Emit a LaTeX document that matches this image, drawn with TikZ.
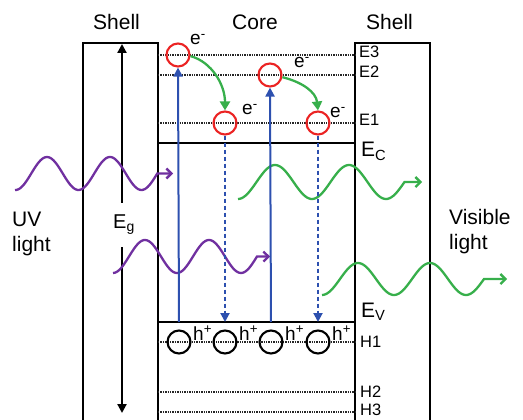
\documentclass[tikz,border=0pt]{standalone}
\usepackage{fontspec}
\setmainfont{Liberation Sans}
\usetikzlibrary{arrows.meta}
\definecolor{ublue}{RGB}{45,80,175}
\definecolor{upurple}{RGB}{112,48,160}
\definecolor{ugreen}{RGB}{55,175,75}
\definecolor{ured}{RGB}{235,35,35}
\begin{document}
\begin{tikzpicture}[x=1pt,y=-1pt,
  box/.style={line width=2.2pt},
  lvl/.style={line width=1.6pt, dash pattern=on 1.3pt off 1.1pt, black!85},
  elec/.style={circle, draw=ured, line width=2.1pt, minimum size=23pt, inner sep=0},
  hole/.style={circle, draw=black, line width=2.1pt, minimum size=23pt, inner sep=0},
  big/.style={font=\fontsize{21}{25}\selectfont, inner sep=0},
  lvltxt/.style={font=\fontsize{16.5}{18}\selectfont, anchor=base west, inner sep=0},
  eltxt/.style={font=\fontsize{19}{21}\selectfont, anchor=base west, inner sep=0},
  uparrow/.style={ublue, line width=2pt, -{Triangle[length=9pt,width=9pt]}},
  downarrow/.style={ublue, line width=2pt, dash pattern=on 4pt off 3pt, -{Triangle[length=9pt,width=9pt]}},
  hop/.style={ugreen, line width=2.3pt, -{Triangle[length=9pt,width=10pt]}},
  wave/.style={line width=2.3pt, -{Straight Barb[length=5pt,width=10pt]}},
]
\useasboundingbox (0,0) rectangle (523,420);
% boxes
\draw[box] (83,425) -- (83,43) -- (158,43) -- (158,425);
\draw[box] (355,425) -- (355,43) -- (430,43) -- (430,425);
\coordinate (ecL) at (158,143); \coordinate (ecR) at (355,143);
\coordinate (evL) at (158,322); \coordinate (evR) at (355,322);
\draw[box] (ecL) -- (ecR);
\draw[box] (evL) -- (evR);
% dotted levels
\foreach \yy in {55,75,123,342,392,412}
  \draw[lvl] (158,\yy) -- (355,\yy);
% titles
\node[big, anchor=base west] (shL) at (93,30) {Shell};
\node[big, anchor=base west] (core) at (232,30) {Core};
\node[big, anchor=base west] (shR) at (366,30) {Shell};
% level labels
\node[lvltxt] (lE3) at (359,58) {E3};
\node[lvltxt] (lE2) at (359,78) {E2};
\node[lvltxt] (lE1) at (359,126) {E1};
\node[big, anchor=base west] (lEC) at (361,157) {E\textsubscript{C}};
\node[big, anchor=base west] (lEV) at (361,317) {E\textsubscript{V}};
\node[lvltxt] (lH1) at (360,347) {H1};
\node[lvltxt] (lH2) at (360,397) {H2};
\node[lvltxt] (lH3) at (360,415) {H3};
% Eg arrow
\node[font=\fontsize{20}{22}\selectfont, inner sep=0, minimum height=44pt] (Eg) at (124,225) {E\textsubscript{g}};
\coordinate (Etop) at (122,44);
\coordinate (Ebot) at (122,413);
\draw[line width=2.1pt, -{Triangle[length=9pt,width=9pt]}] (Etop |- Eg.north) -- (Etop);
\draw[line width=2.1pt, -{Triangle[length=9pt,width=9pt]}] (Etop |- Eg.south) -- (Ebot);
% waves
\draw[wave, upurple] plot[domain=15:157.25, samples=90] (\x, {173.5 - 16.5*sin(((\x-31.25)/63)*360)}) -- (173,173.5);
\draw[wave, upurple] plot[domain=113:257, samples=90] (\x, {256.5 - 16.5*sin(((\x-129)/64)*360)}) -- (270,256.5);
\draw[wave, ugreen] plot[domain=238:404.5, samples=90] (\x, {182 - 17*sin(((\x-256.5)/74)*360)}) -- (422,182);
\draw[wave, ugreen] plot[domain=322:484, samples=90] (\x, {279 - 16*sin(((\x-340)/72)*360)}) -- (507,279);
% light labels
\node[big, anchor=west, align=left] (uv) at (12,234) {UV\\light};
\node[big, anchor=west, align=left] (vis) at (449,232) {Visible\\light};
% electrons
\node[elec] (e3a) at (178,55) {};
\node[elec] (e1a) at (225,123) {};
\node[elec] (e2a) at (270,75) {};
\node[elec] (e1b) at (318,123) {};
\node[eltxt] (te3a) at (190,45) {e\textsuperscript{-}};
\node[eltxt] (te1a) at (242,115) {e\textsuperscript{-}};
\node[eltxt] (te2a) at (294,68) {e\textsuperscript{-}};
\node[eltxt] (te1b) at (330,118) {e\textsuperscript{-}};
% holes
\node[hole] (h1) at (179,342) {};
\node[hole] (h2) at (225,342) {};
\node[hole] (h3) at (271,342) {};
\node[hole] (h4) at (318,342) {};
\node[eltxt] (th1) at (193,340) {h\textsuperscript{+}};
\node[eltxt] (th2) at (239,340) {h\textsuperscript{+}};
\node[eltxt] (th3) at (285,340) {h\textsuperscript{+}};
\node[eltxt] (th4) at (332,340) {h\textsuperscript{+}};
% transitions
\draw[uparrow] (h1 |- evL) -- (e3a.south);
\draw[uparrow] (h3 |- evL) -- (e2a.south);
\draw[downarrow] (e1a.south) -- (h2 |- evL);
\draw[downarrow] (e1b.south) -- (h4 |- evL);
% relaxation hops
\draw[hop] (e3a.-5) .. controls (212,62) and (225,85) .. (e1a.north);
\draw[hop] (e2a.-10) .. controls (302,82) and (316,92) .. (e1b.north);
\end{tikzpicture}
\end{document}
